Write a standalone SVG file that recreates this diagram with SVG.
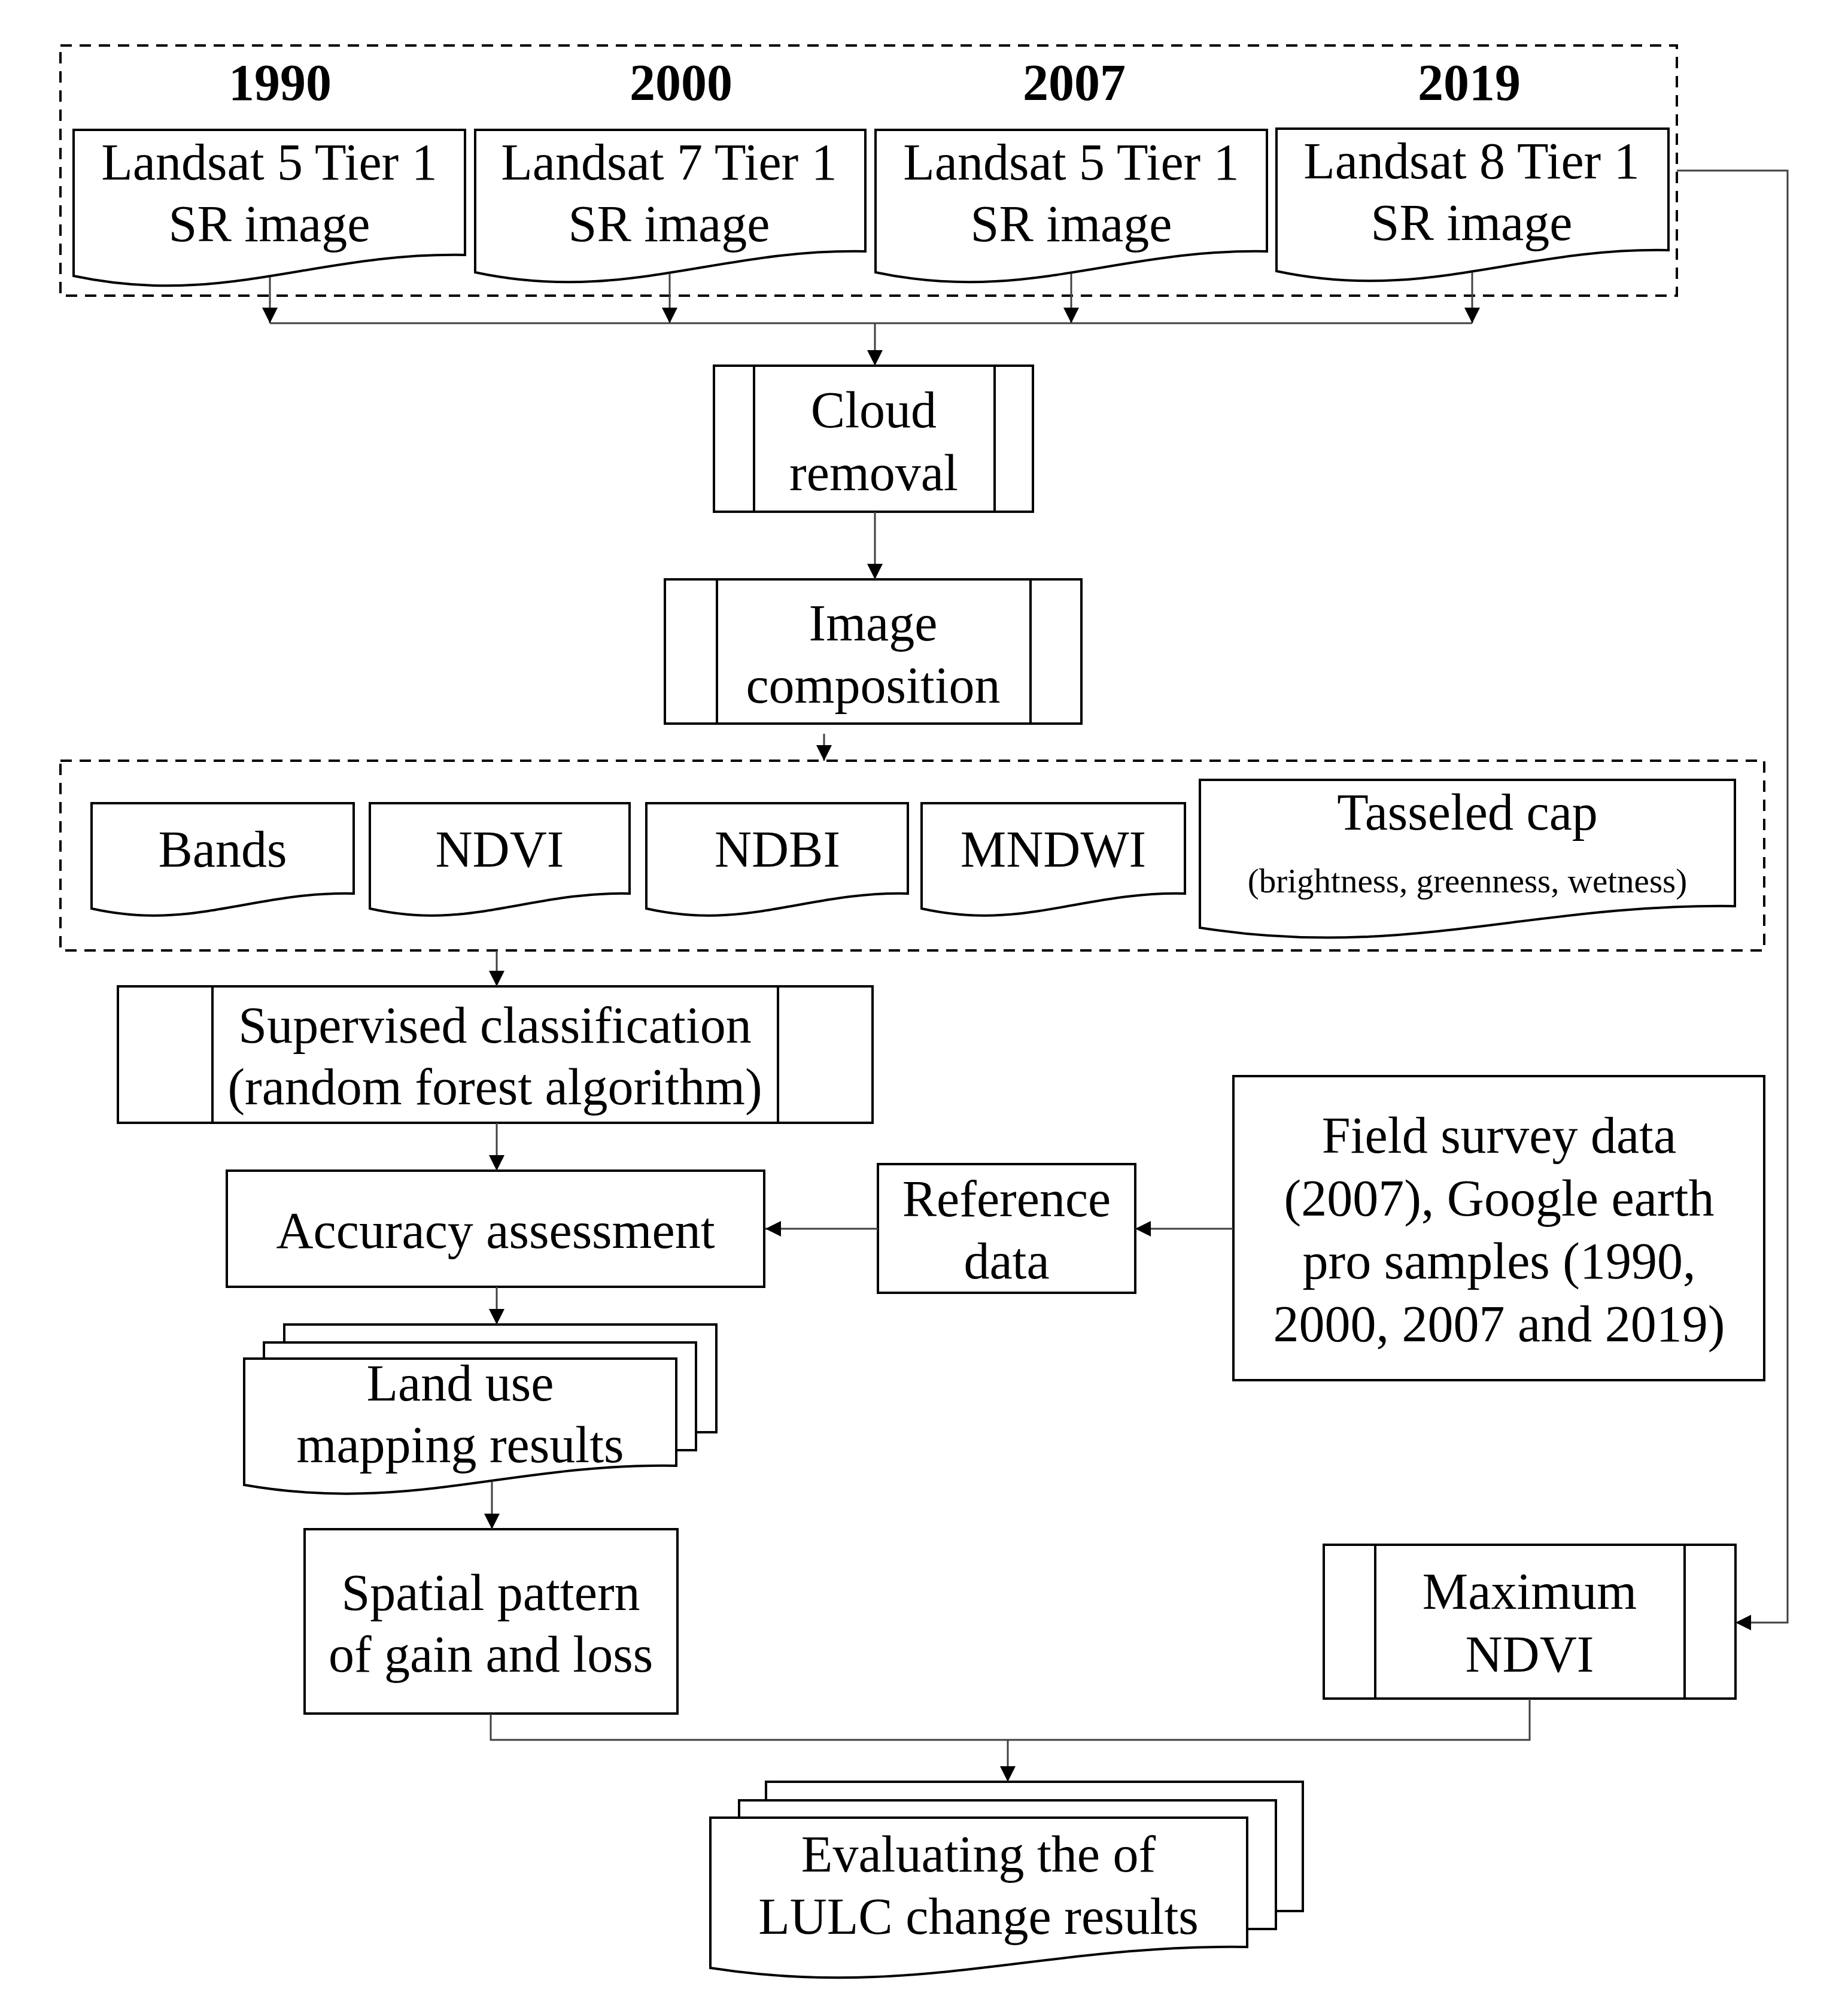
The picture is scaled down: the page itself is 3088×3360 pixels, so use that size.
<svg xmlns="http://www.w3.org/2000/svg" width="3088" height="3360" viewBox="0 0 3088 3360">
<style>
text{font-family:"Liberation Serif","Times New Roman",serif;font-size:86px;fill:#000;text-anchor:middle}
.yr{font-weight:bold}
.sm{font-size:57px}
.sh{fill:#fff;stroke:#000;stroke-width:4}
.ln{fill:none;stroke:#000;stroke-width:4}
.dash{fill:none;stroke:#000;stroke-width:4;stroke-dasharray:19 13}
.c{fill:none;stroke:#404040;stroke-width:3}
</style>
<defs>
<marker id="ah" markerUnits="userSpaceOnUse" markerWidth="28" markerHeight="28" refX="26" refY="13" orient="auto">
<path d="M0,0 L26,13 L0,26 Z" fill="#000"/>
</marker>
</defs>
<rect width="3088" height="3360" fill="#fff"/>

<g id="group-years">
<rect class="dash" x="101" y="76" width="2701" height="418"/>
<text class="yr" x="468" y="167">1990</text>
<text class="yr" x="1138" y="167">2000</text>
<text class="yr" x="1795" y="167">2007</text>
<text class="yr" x="2455" y="167">2019</text>
</g>
<g id="doc-l5-1990">
<path class="sh" d="M123,217 H777 V426 C528,421 372,514 123,461 Z"/>
<text x="450" y="300">Landsat 5 Tier 1</text>
<text x="450" y="403">SR image</text>
</g>
<g id="doc-l7-2000">
<path class="sh" d="M794,217 H1446 V420 C1198,415 1042,508 794,455 Z"/>
<text x="1118" y="300">Landsat 7 Tier 1</text>
<text x="1118" y="403">SR image</text>
</g>
<g id="doc-l5-2007">
<path class="sh" d="M1463,217 H2117 V420 C1868,415 1712,508 1463,455 Z"/>
<text x="1790" y="300">Landsat 5 Tier 1</text>
<text x="1790" y="403">SR image</text>
</g>
<g id="doc-l8-2019">
<path class="sh" d="M2133,215 H2788 V418 C2539,413 2382,506 2133,453 Z"/>
<text x="2459" y="298">Landsat 8 Tier 1</text>
<text x="2459" y="401">SR image</text>
</g>

<g id="cloud-removal">
<rect class="sh" x="1193" y="611" width="533" height="244"/>
<line class="ln" x1="1260" y1="611" x2="1260" y2="855"/>
<line class="ln" x1="1662" y1="611" x2="1662" y2="855"/>
<text x="1460" y="714">Cloud</text>
<text x="1460" y="819">removal</text>
</g>
<g id="image-composition">
<rect class="sh" x="1111" y="968" width="696" height="241"/>
<line class="ln" x1="1198" y1="968" x2="1198" y2="1209"/>
<line class="ln" x1="1722" y1="968" x2="1722" y2="1209"/>
<text x="1459" y="1070">Image</text>
<text x="1459" y="1174">composition</text>
</g>

<g id="group-indices">
<rect class="dash" x="101" y="1271" width="2847" height="317"/>
</g>
<g id="doc-bands">
<path class="sh" d="M153,1342 H591 V1493 C425,1489 319,1556 153,1518 Z"/>
<text x="372" y="1448">Bands</text>
</g>
<g id="doc-ndvi">
<path class="sh" d="M618,1342 H1052 V1493 C887,1489 783,1556 618,1518 Z"/>
<text x="835" y="1448">NDVI</text>
</g>
<g id="doc-ndbi">
<path class="sh" d="M1080,1342 H1517 V1493 C1351,1489 1246,1556 1080,1518 Z"/>
<text x="1299" y="1448">NDBI</text>
</g>
<g id="doc-mndwi">
<path class="sh" d="M1540,1342 H1980 V1493 C1813,1489 1707,1556 1540,1518 Z"/>
<text x="1760" y="1448">MNDWI</text>
</g>
<g id="doc-tasseled">
<path class="sh" d="M2005,1303 H2899 V1514 C2559,1509 2345,1604 2005,1550 Z"/>
<text x="2452" y="1386">Tasseled cap</text>
<text class="sm" x="2452" y="1491">(brightness, greenness, wetness)</text>
</g>

<g id="supervised-classification">
<rect class="sh" x="197" y="1648" width="1261" height="228"/>
<line class="ln" x1="355" y1="1648" x2="355" y2="1876"/>
<line class="ln" x1="1300" y1="1648" x2="1300" y2="1876"/>
<text x="827" y="1742">Supervised classification</text>
<text x="827" y="1845">(random forest algorithm)</text>
</g>
<g id="accuracy-assessment">
<rect class="sh" x="379" y="1956" width="898" height="194"/>
<text x="828" y="2085">Accuracy assessment</text>
</g>
<g id="reference-data">
<rect class="sh" x="1467" y="1945" width="430" height="215"/>
<text x="1682" y="2032">Reference</text>
<text x="1682" y="2136">data</text>
</g>
<g id="field-survey">
<rect class="sh" x="2061" y="1798" width="887" height="508"/>
<text x="2505" y="1926">Field survey data</text>
<text x="2505" y="2031">(2007), Google earth</text>
<text x="2505" y="2136">pro samples (1990,</text>
<text x="2505" y="2241">2000, 2007 and 2019)</text>
</g>
<g id="land-use-results">
<rect class="sh" x="475" y="2213" width="722" height="180"/>
<rect class="sh" x="441" y="2243" width="722" height="180"/>
<path class="sh" d="M408,2270 H1130 V2449 C856,2444 682,2529 408,2481 Z"/>
<text x="769" y="2340">Land use</text>
<text x="769" y="2443">mapping results</text>
</g>
<g id="spatial-pattern">
<rect class="sh" x="509" y="2555" width="623" height="308"/>
<text x="820" y="2690">Spatial pattern</text>
<text x="820" y="2793">of gain and loss</text>
</g>
<g id="maximum-ndvi">
<rect class="sh" x="2212" y="2581" width="688" height="257"/>
<line class="ln" x1="2298" y1="2581" x2="2298" y2="2838"/>
<line class="ln" x1="2815" y1="2581" x2="2815" y2="2838"/>
<text x="2556" y="2688">Maximum</text>
<text x="2556" y="2793">NDVI</text>
</g>
<g id="evaluating-results">
<rect class="sh" x="1280" y="2977" width="897" height="216"/>
<rect class="sh" x="1235" y="3008" width="897" height="215"/>
<path class="sh" d="M1187,3037 H2084 V3253 C1743,3248 1528,3341 1187,3288 Z"/>
<text x="1635" y="3127">Evaluating the of</text>
<text x="1635" y="3231">LULC change results</text>
</g>

<g id="connectors">
<path class="c" d="M451,463 V540" marker-end="url(#ah)"/>
<path class="c" d="M1119,457 V540" marker-end="url(#ah)"/>
<path class="c" d="M1790,457 V540" marker-end="url(#ah)"/>
<path class="c" d="M2460,455 V540" marker-end="url(#ah)"/>
<path class="c" d="M451,540 H2460"/>
<path class="c" d="M1462,540 V611" marker-end="url(#ah)"/>
<path class="c" d="M1462,855 V968" marker-end="url(#ah)"/>
<path class="c" d="M1377,1226 V1271" marker-end="url(#ah)"/>
<path class="c" d="M830,1588 V1648" marker-end="url(#ah)"/>
<path class="c" d="M830,1876 V1956" marker-end="url(#ah)"/>
<path class="c" d="M1467,2053 H1279" marker-end="url(#ah)"/>
<path class="c" d="M2061,2053 H1897" marker-end="url(#ah)"/>
<path class="c" d="M830,2150 V2213" marker-end="url(#ah)"/>
<path class="c" d="M822,2475 V2555" marker-end="url(#ah)"/>
<path class="c" d="M2802,285 H2987 V2711 H2900" marker-end="url(#ah)"/>
<path class="c" d="M820,2863 V2907 H2556 V2838"/>
<path class="c" d="M1684,2907 V2977" marker-end="url(#ah)"/>
</g>
</svg>
